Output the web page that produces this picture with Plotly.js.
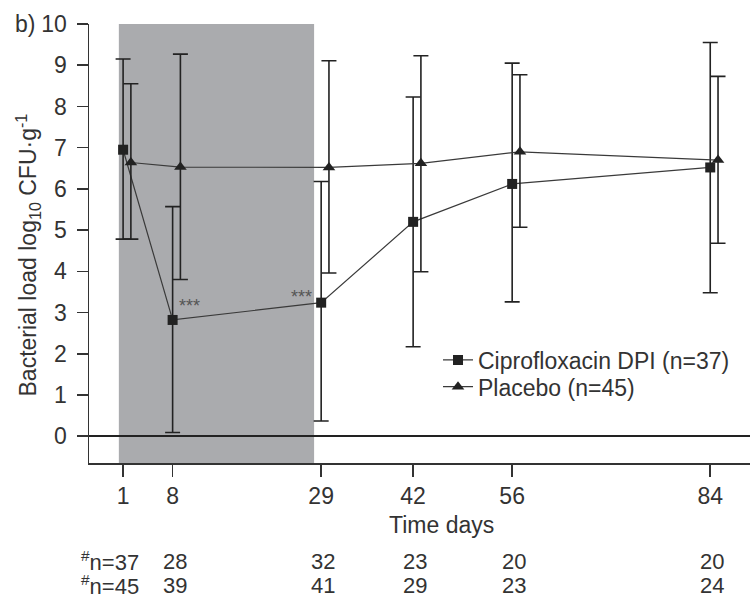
<!DOCTYPE html>
<html>
<head>
<meta charset="utf-8">
<script src="https://cdn.plot.ly/plotly-3.0.1.min.js"></script>
<style>html,body{margin:0;padding:0;background:#fff;}#chart{width:756px;height:600px;}</style>
</head>
<body>
<div id="chart"></div>
<script>
// ---- data ----
const days = [1, 8, 29, 42, 56, 84];
const dayTickLabels = ['1', '8', '29', '42', '56', '84'];

const ciproMean  = [6.95, 2.82, 3.24, 5.20, 6.12, 6.52];
const ciproUpper = [9.15, 5.57, 6.18, 8.23, 9.05, 9.55];
const ciproLower = [4.78, 0.09, 0.37, 2.17, 3.26, 3.48];

const placeboMean  = [6.64, 6.53, 6.52, 6.62, 6.90, 6.70];
const placeboUpper = [8.55, 9.27, 9.11, 9.23, 8.77, 8.73];
const placeboLower = [4.78, 3.80, 3.96, 3.99, 5.07, 4.68];

const nCipro   = [37, 28, 32, 23, 20, 20];
const nPlacebo = [45, 39, 41, 29, 23, 24];

const yTicks = [0, 1, 2, 3, 4, 5, 6, 7, 8, 9, 10];
const treatmentStart = 0.4, treatmentEnd = 28;

// ---- styling ----
const FONT = 'Liberation Sans, Arial, sans-serif';
const TXT = '#333333';
const INK = '#222222';
const DODGE = 1.1; // horizontal offset of placebo markers (days)

const up = (u, m) => u.map((v, i) => +(v - m[i]).toFixed(3));
const dn = (l, m) => l.map((v, i) => +(m[i] - v).toFixed(3));

const cipro = {
  x: days, y: ciproMean, type: 'scatter', mode: 'lines+markers',
  name: 'Ciprofloxacin DPI (n=37)', legend: 'legend',
  line: {color: '#3a3a3a', width: 1.2},
  marker: {symbol: 'square', size: 10, color: INK},
  error_y: {type: 'data', symmetric: false, array: up(ciproUpper, ciproMean),
            arrayminus: dn(ciproLower, ciproMean), color: INK, thickness: 1.6, width: 7.5}
};
const placebo = {
  x: days.map(d => d + DODGE), y: placeboMean, type: 'scatter', mode: 'lines+markers',
  name: 'Placebo (n=45)', legend: 'legend2',
  line: {color: '#3a3a3a', width: 1.2},
  marker: {symbol: 'triangle-up', size: 11, color: INK},
  error_y: {type: 'data', symmetric: false, array: up(placeboUpper, placeboMean),
            arrayminus: dn(placeboLower, placeboMean), color: INK, thickness: 1.6, width: 7.5}
};

const annotations = [];
// significance stars
annotations.push({x: days[1], y: ciproMean[1], xref: 'x', yref: 'y', text: '***', showarrow: false,
  xanchor: 'left', yanchor: 'middle', xshift: 4, yshift: 14, font: {family: FONT, size: 18, color: '#555'}});
annotations.push({x: days[2], y: ciproMean[2], xref: 'x', yref: 'y', text: '***', showarrow: false,
  xanchor: 'right', yanchor: 'middle', xshift: -7, yshift: 6, font: {family: FONT, size: 18, color: '#555'}});
// panel label
annotations.push({x: 0, y: 1, xref: 'paper', yref: 'paper', text: 'b)', showarrow: false,
  xanchor: 'center', yanchor: 'middle', xshift: -64, font: {family: FONT, size: 23, color: TXT}});
// y title
annotations.push({x: 0, y: 0.5, xref: 'paper', yref: 'paper', text: 'Bacterial load log<sub>10</sub> CFU·g<sup>-1</sup>',
  textangle: -90, showarrow: false, xanchor: 'center', yanchor: 'middle', xshift: -62, yshift: -12,
  font: {family: FONT, size: 23, color: TXT}});
// x title
annotations.push({x: 0.534, y: 0, xref: 'paper', yref: 'paper', text: 'Time days', showarrow: false,
  xanchor: 'center', yanchor: 'middle', yshift: -62, font: {family: FONT, size: 23, color: TXT}});
// n rows
[[nCipro, -98], [nPlacebo, -122]].forEach(([arr, ys]) => {
  arr.forEach((n, i) => {
    if (i === 0) {
      annotations.push({x: days[i], y: 0, xref: 'x', yref: 'paper', text: '<sup>#</sup>n=' + n,
        showarrow: false, xanchor: 'right', yanchor: 'middle', xshift: 18, yshift: ys,
        font: {family: FONT, size: 22, color: TXT}});
    } else {
      annotations.push({x: days[i], y: 0, xref: 'x', yref: 'paper', text: String(n),
        showarrow: false, xanchor: 'center', yanchor: 'middle', xshift: 2, yshift: ys,
        font: {family: FONT, size: 22, color: TXT}});
    }
  });
});

const legendCommon = {font: {family: FONT, size: 23, color: TXT}, bgcolor: 'rgba(0,0,0,0)',
  borderwidth: 0, xanchor: 'left', yanchor: 'middle', itemclick: false};

const layout = {
  width: 756, height: 600,
  margin: {l: 89, r: 6, t: 24, b: 137},
  paper_bgcolor: '#fff', plot_bgcolor: '#fff',
  font: {family: FONT, size: 23, color: TXT},
  showlegend: true,
  legend: Object.assign({x: 0.528, y: 0.2346}, legendCommon),
  legend2: Object.assign({x: 0.528, y: 0.1738}, legendCommon),
  xaxis: {
    range: [-3.82, 89.62], tickmode: 'array', tickvals: days, ticktext: dayTickLabels,
    showline: true, linecolor: '#333', linewidth: 1.5, mirror: false,
    ticks: 'outside', ticklen: 12, tickwidth: 1.5, tickcolor: '#333',
    showgrid: false, zeroline: false, tickfont: {family: FONT, size: 23, color: TXT}
  },
  yaxis: {
    range: [-0.65, 10], tickmode: 'array', tickvals: yTicks,
    showline: true, linecolor: '#333', linewidth: 1.5,
    ticks: 'outside', ticklen: 11, tickwidth: 1.5, tickcolor: '#333', ticklabelstandoff: 5,
    showgrid: false, zeroline: true, zerolinecolor: '#222', zerolinewidth: 1.5,
    tickfont: {family: FONT, size: 23, color: TXT}
  },
  shapes: [{type: 'rect', xref: 'x', yref: 'paper', x0: treatmentStart, x1: treatmentEnd, y0: 0, y1: 1,
    fillcolor: '#aaabae', line: {width: 0}, layer: 'below'}],
  annotations: annotations
};

Plotly.newPlot('chart', [cipro, placebo], layout, {displayModeBar: false, staticPlot: true});
</script>
</body>
</html>
